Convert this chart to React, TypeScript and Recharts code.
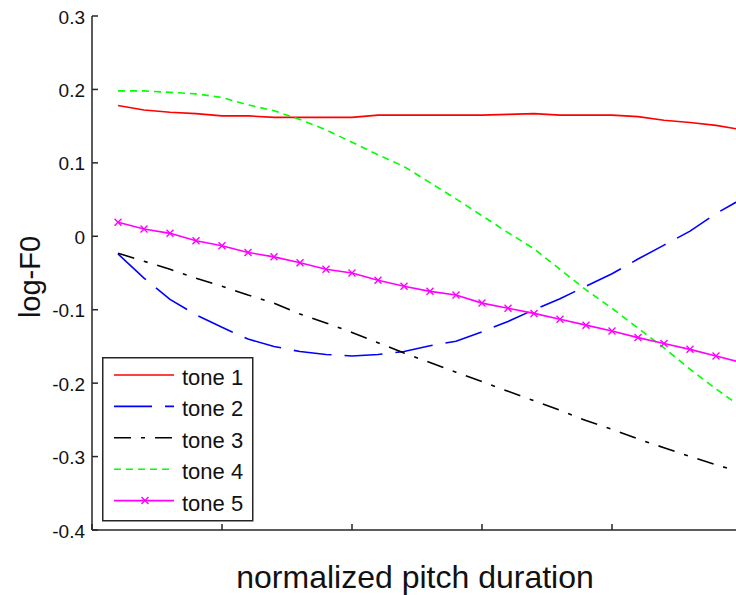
import { LineChart, Line, XAxis, YAxis, Legend } from "recharts";

const steps = [1, 2, 3, 4, 5, 6, 7, 8, 9, 10, 11, 12, 13, 14, 15, 16, 17, 18, 19, 20, 21, 22, 23, 24, 25];

const tone1 = [0.178, 0.172, 0.169, 0.167, 0.164, 0.164, 0.162, 0.162, 0.162, 0.162, 0.165, 0.165, 0.165, 0.165, 0.165, 0.166, 0.167, 0.165, 0.165, 0.165, 0.163, 0.158, 0.155, 0.151, 0.145];
const tone2 = [-0.024, -0.057, -0.086, -0.107, -0.124, -0.14, -0.15, -0.157, -0.161, -0.163, -0.161, -0.157, -0.149, -0.143, -0.13, -0.116, -0.1, -0.085, -0.068, -0.051, -0.031, -0.012, 0.007, 0.031, 0.051];
const tone3 = [-0.023, -0.034, -0.045, -0.057, -0.068, -0.08, -0.091, -0.106, -0.118, -0.131, -0.145, -0.159, -0.172, -0.185, -0.198, -0.211, -0.224, -0.237, -0.251, -0.263, -0.276, -0.288, -0.3, -0.311, -0.322];
const tone4 = [0.198, 0.198, 0.196, 0.194, 0.189, 0.179, 0.171, 0.159, 0.145, 0.128, 0.111, 0.095, 0.073, 0.051, 0.028, 0.005, -0.017, -0.045, -0.073, -0.098, -0.125, -0.152, -0.181, -0.208, -0.233];
const tone5 = [0.019, 0.01, 0.004, -0.006, -0.013, -0.022, -0.028, -0.036, -0.045, -0.05, -0.06, -0.068, -0.075, -0.08, -0.091, -0.098, -0.105, -0.113, -0.121, -0.129, -0.138, -0.146, -0.154, -0.163, -0.172];

const yTicks = [-0.4, -0.3, -0.2, -0.1, 0, 0.1, 0.2, 0.3];
const xTicks = [0, 5, 10, 15, 20, 25];

const series = [
  { key: "tone1", name: "tone 1", color: "#ff0000", dash: undefined, marker: false },
  { key: "tone2", name: "tone 2", color: "#0000ff", dash: "38 13", marker: false },
  { key: "tone3", name: "tone 3", color: "#000000", dash: "17 10 4 10", marker: false },
  { key: "tone4", name: "tone 4", color: "#00ff00", dash: "7 5", marker: false },
  { key: "tone5", name: "tone 5", color: "#ff00ff", dash: undefined, marker: true },
];

const data = steps.map((s, i) => ({
  step: s,
  tone1: tone1[i],
  tone2: tone2[i],
  tone3: tone3[i],
  tone4: tone4[i],
  tone5: tone5[i],
}));

const FONT = '"Liberation Sans", Arial, Helvetica, sans-serif';
const AXIS = "#262626";
const TICK = 6;

const fmt = (v: number) => (v === 0 ? "0" : v.toFixed(1));

function xMark(cx: number, cy: number, color: string, key?: any) {
  const r = 3.5;
  return (
    <path
      key={key}
      d={`M${cx - r},${cy - r}L${cx + r},${cy + r}M${cx - r},${cy + r}L${cx + r},${cy - r}`}
      stroke={color}
      strokeWidth={1.4}
      fill="none"
    />
  );
}

const LeftTick = ({ x, y, payload }: any) => (
  <g>
    <line x1={x} x2={x + TICK} y1={y} y2={y} stroke={AXIS} strokeWidth={1.5} />
    <text x={x - 7} y={y + 1} textAnchor="end" dominantBaseline="central" fontFamily={FONT} fontSize={19} fill="#111">
      {fmt(payload.value)}
    </text>
  </g>
);

const RightTick = ({ x, y }: any) => <line x1={x} x2={x - TICK} y1={y} y2={y} stroke={AXIS} strokeWidth={1.5} />;
const BottomTick = ({ x, y }: any) => <line x1={x} x2={x} y1={y} y2={y - TICK} stroke={AXIS} strokeWidth={1.5} />;
const TopTick = ({ x, y }: any) => <line x1={x} x2={x} y1={y} y2={y + TICK} stroke={AXIS} strokeWidth={1.5} />;

const yLabel = ({ viewBox }: any) => {
  const cx = viewBox.x + 30;
  const cy = viewBox.y + viewBox.height / 2 + 4;
  return (
    <text x={cx} y={cy} transform={`rotate(-90 ${cx} ${cy})`} textAnchor="middle" dominantBaseline="central" fontFamily={FONT} fontSize={29} fill="#111">
      log-F0
    </text>
  );
};

const xLabel = ({ viewBox }: any) => (
  <text x={viewBox.x + viewBox.width / 2 - 2} y={viewBox.y + 58} textAnchor="middle" fontFamily={FONT} fontSize={32} fill="#111">
    normalized pitch duration
  </text>
);

const LegendBox = () => (
  <svg width={152} height={165} style={{ display: "block" }}>
    <rect x={0.75} y={0.75} width={150} height={163} fill="#fff" stroke={AXIS} strokeWidth={1.5} />
    {series.map((s, i) => {
      const y = 18 + i * 31.4;
      return (
        <g key={s.key}>
          <line x1={12} x2={72} y1={y} y2={y} stroke={s.color} strokeWidth={1.6} strokeDasharray={s.dash} />
          {s.marker && xMark(43, y, s.color)}
          <text x={80} y={y + 10} fontFamily={FONT} fontSize={22} fill="#111">
            {s.name}
          </text>
        </g>
      );
    })}
  </svg>
);

export default function App() {
  return (
    <div style={{ position: "fixed", left: 0, top: 0, width: 736, height: 595, overflow: "hidden", background: "#fff" }}>
      <LineChart width={800} height={595} data={data} margin={{ top: 16, right: 0, bottom: 0, left: 0 }}>
        <XAxis
          dataKey="step"
          type="number"
          domain={[0, 25]}
          ticks={xTicks}
          height={65}
          tickSize={0}
          tickMargin={0}
          tickLine={false}
          tick={BottomTick}
          axisLine={{ stroke: AXIS, strokeWidth: 1.5 }}
          label={xLabel}
        />
        <XAxis
          xAxisId="top"
          orientation="top"
          dataKey="step"
          type="number"
          domain={[0, 25]}
          ticks={xTicks}
          height={0}
          tickSize={0}
          tickMargin={0}
          tickLine={false}
          tick={TopTick}
          axisLine={{ stroke: AXIS, strokeWidth: 1.5 }}
        />
        <YAxis
          type="number"
          domain={[-0.4, 0.3]}
          ticks={yTicks}
          width={92}
          tickSize={0}
          tickMargin={0}
          tickLine={false}
          tick={LeftTick}
          axisLine={{ stroke: AXIS, strokeWidth: 1.5 }}
          label={yLabel}
          allowDataOverflow
        />
        <YAxis
          yAxisId="right"
          orientation="right"
          type="number"
          domain={[-0.4, 0.3]}
          ticks={yTicks}
          width={58}
          tickSize={0}
          tickMargin={0}
          tickLine={false}
          tick={RightTick}
          axisLine={{ stroke: AXIS, strokeWidth: 1.5 }}
        />
        <Legend layout="vertical" align="center" verticalAlign="middle" content={LegendBox} wrapperStyle={{ left: 102, top: 357, width: 152, height: 165 }} />
        {series.map((s) => (
          <Line
            key={s.key}
            dataKey={s.key}
            name={s.name}
            type="linear"
            stroke={s.color}
            strokeWidth={1.6}
            strokeDasharray={s.dash}
            dot={s.marker ? (p: any) => xMark(p.cx, p.cy, s.color, p.index) : false}
            activeDot={false}
            isAnimationActive={false}
          />
        ))}
      </LineChart>
    </div>
  );
}
